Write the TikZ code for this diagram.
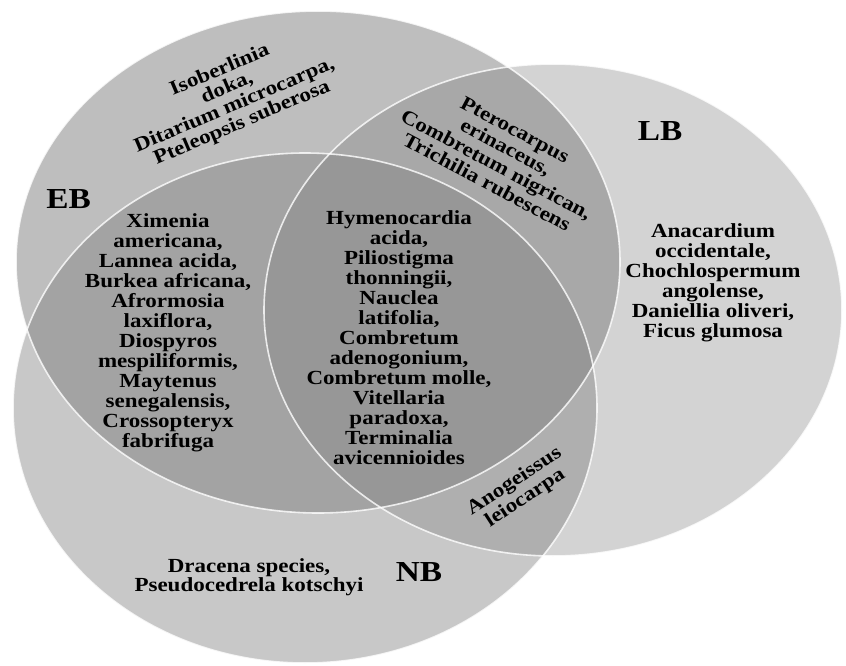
\documentclass[tikz,border=0pt]{standalone}
\usepackage{fontspec}
\setmainfont{Liberation Serif}[FakeStretch=1.15]
\begin{document}
\begin{tikzpicture}[x=1pt,y=-1pt,
  rim/.style={draw=white, line width=1.6pt, draw opacity=0.8},
  spp/.style={font=\bfseries\fontsize{20}{20}\selectfont, align=center, inner sep=0pt, text=black},
  setlabel/.style={font=\bfseries\fontsize{29}{29}\selectfont, inner sep=0pt, text=black}]
\useasboundingbox (0,0) rectangle (846,666);
\fill[white] (0,0) rectangle (846,666);
% set fills (LB, NB, EB)
\fill[gray, fill opacity=0.34] (553,310) ellipse [x radius=289, y radius=246];
\fill[gray, fill opacity=0.43] (305,408) ellipse [x radius=292, y radius=255];
\fill[gray, fill opacity=0.51] (318,262) ellipse [x radius=302, y radius=251];
% outlines
\draw[rim] (553,310) ellipse [x radius=289, y radius=246];
\draw[rim] (305,408) ellipse [x radius=292, y radius=255];
\draw[rim] (318,262) ellipse [x radius=302, y radius=251];
% set labels
\node[setlabel] (eb) at (68.5,199.5) {EB};
\node[setlabel] (lb) at (660,131) {LB};
\node[setlabel] (nb) at (419,572) {NB};
% species lists
\node[spp, rotate=23, font=\bfseries\fontsize{20}{19}\selectfont] (ebonly) at (231,97)
  {Isoberlinia\\doka,\\Ditarium microcarpa,\\Pteleopsis suberosa};
\node[spp, rotate=-28] (eblb) at (501,156)
  {Pterocarpus\\erinaceus,\\Combretum nigrican,\\Trichilia rubescens};
\node[spp] (ebnb) at (168,333)
  {Ximenia\\americana,\\Lannea acida,\\Burkea africana,\\Afrormosia\\laxiflora,\\Diospyros\\mespiliformis,\\Maytenus\\senegalensis,\\Crossopteryx\\fabrifuga};
\node[spp] (all) at (399,338)
  {Hymenocardia\\acida,\\Piliostigma\\thonningii,\\Nauclea\\latifolia,\\Combretum\\adenogonium,\\Combretum molle,\\Vitellaria\\paradoxa,\\Terminalia\\avicennioides};
\node[spp] (lbonly) at (713,283)
  {Anacardium\\occidentale,\\Chochlospermum\\angolense,\\Daniellia oliveri,\\Ficus glumosa};
\node[spp, rotate=33] (lbnb) at (520,490)
  {Anogeissus\\leiocarpa};
\node[spp, font=\bfseries\fontsize{20}{17}\selectfont] (nbonly) at (249,577)
  {Dracena species,\\Pseudocedrela kotschyi};
\end{tikzpicture}
\end{document}
